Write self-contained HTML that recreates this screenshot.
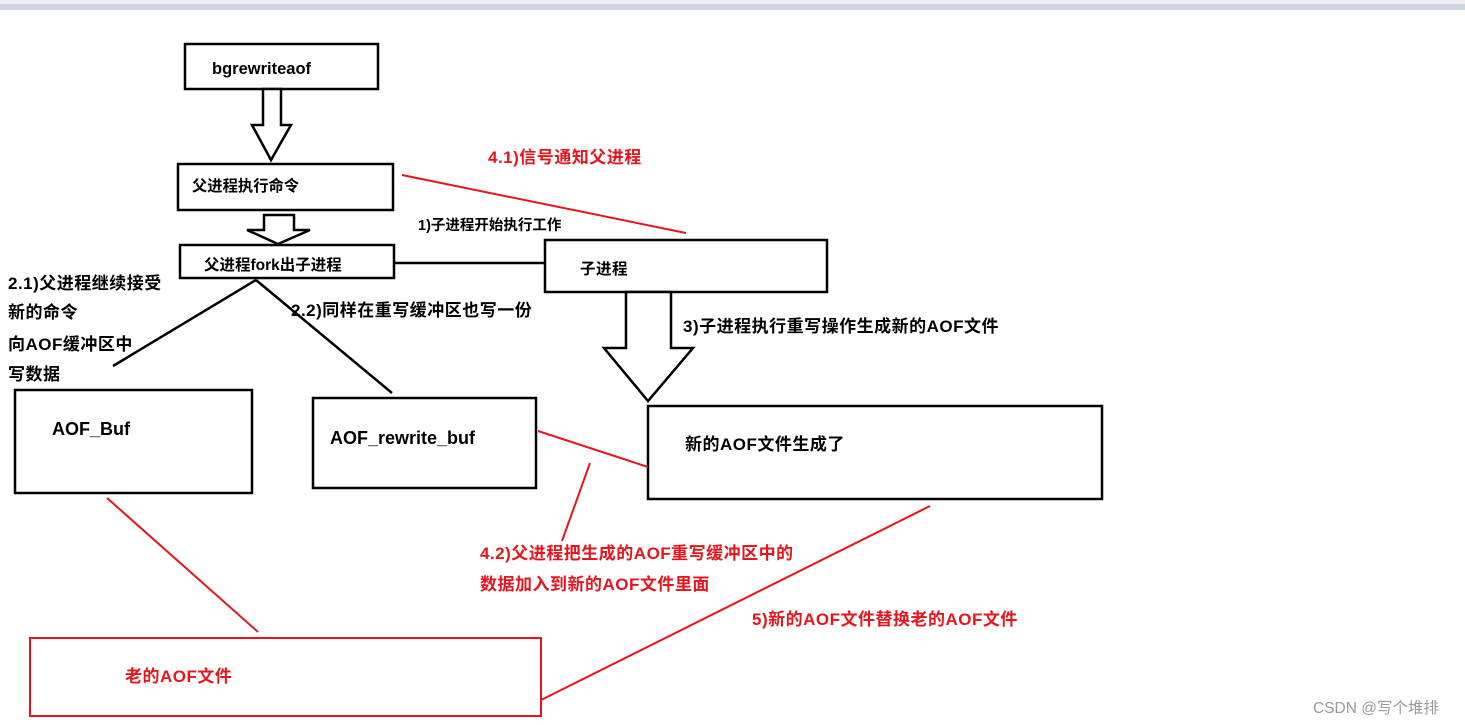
<!DOCTYPE html>
<html><head><meta charset="utf-8"><style>
html,body{margin:0;padding:0;background:#fff;width:1465px;height:725px;overflow:hidden}
svg text{font-family:"Liberation Sans","Noto Sans CJK SC",sans-serif;font-weight:bold}
</style></head><body>
<svg width="1465" height="725" viewBox="0 0 1465 725" xmlns="http://www.w3.org/2000/svg">
<rect x="0" y="0" width="1465" height="4" fill="#eef0f3"/>
<rect x="0" y="4" width="1465" height="6" fill="#cfd5e0"/>
<g fill="none" stroke="#000" stroke-width="2.5">
<rect x="185" y="44" width="193" height="45"/>
<polygon points="263,89 281,89 281,125 291,125 271,160 252,125 263,125" fill="#fff"/>
<rect x="178" y="164" width="215" height="46"/>
<polygon points="264,215 294,215 294,230 310,230 278,244 247,230 264,230" fill="#fff"/>
<rect x="180" y="245" width="214" height="33"/>
<line x1="394" y1="263" x2="546" y2="263"/>
<rect x="545" y="240" width="282" height="52"/>
<polygon points="626,292 671,292 671,348 693,348 648,401 604,348 626,348" fill="#fff"/>
<rect x="648" y="406" width="454" height="93"/>
<rect x="15" y="390" width="237" height="103"/>
<rect x="313" y="398" width="223" height="90"/>
<line x1="256" y1="280" x2="113" y2="366"/>
<line x1="256" y1="280" x2="392" y2="393"/>
</g>
<g fill="none" stroke="#e8141c" stroke-width="2">
<rect x="30" y="638" width="511" height="78"/>
<line x1="402" y1="175" x2="686" y2="233"/>
<line x1="538" y1="431" x2="648" y2="467"/>
<line x1="590" y1="463" x2="562" y2="541"/>
<line x1="107" y1="498" x2="258" y2="632"/>
<line x1="541" y1="700" x2="930" y2="506"/>
</g>
<g font-size="17" fill="#000" letter-spacing="0.5">
<text x="212" y="74" font-size="16.5" letter-spacing="0">bgrewriteaof</text>
<text x="192" y="191" font-size="15.3" letter-spacing="0">父进程执行命令</text>
<text x="204" y="270" font-size="15.5" letter-spacing="0">父进程fork出子进程</text>
<text x="580" y="274" font-size="15.5">子进程</text>
<text x="418" y="230" font-size="14.5" letter-spacing="0">1)子进程开始执行工作</text>
<text x="8" y="289">2.1)父进程继续接受</text>
<text x="8" y="318">新的命令</text>
<text x="8" y="350">向AOF缓冲区中</text>
<text x="8" y="380">写数据</text>
<text x="291" y="316">2.2)同样在重写缓冲区也写一份</text>
<text x="683" y="332">3)子进程执行重写操作生成新的AOF文件</text>
<text x="52" y="435" font-size="18" letter-spacing="0">AOF_Buf</text>
<text x="330" y="444" font-size="18" letter-spacing="0">AOF_rewrite_buf</text>
<text x="685" y="450">新的AOF文件生成了</text>
</g>
<g font-size="17" fill="#e8141c" letter-spacing="0.5">
<text x="488" y="163">4.1)信号通知父进程</text>
<text x="480" y="559">4.2)父进程把生成的AOF重写缓冲区中的</text>
<text x="480" y="590">数据加入到新的AOF文件里面</text>
<text x="752" y="625">5)新的AOF文件替换老的AOF文件</text>
<text x="125" y="682">老的AOF文件</text>
</g>
<text x="1313" y="713" font-size="15.5" fill="#999" style="font-weight:normal">CSDN @写个堆排</text>
</svg>
</body></html>
